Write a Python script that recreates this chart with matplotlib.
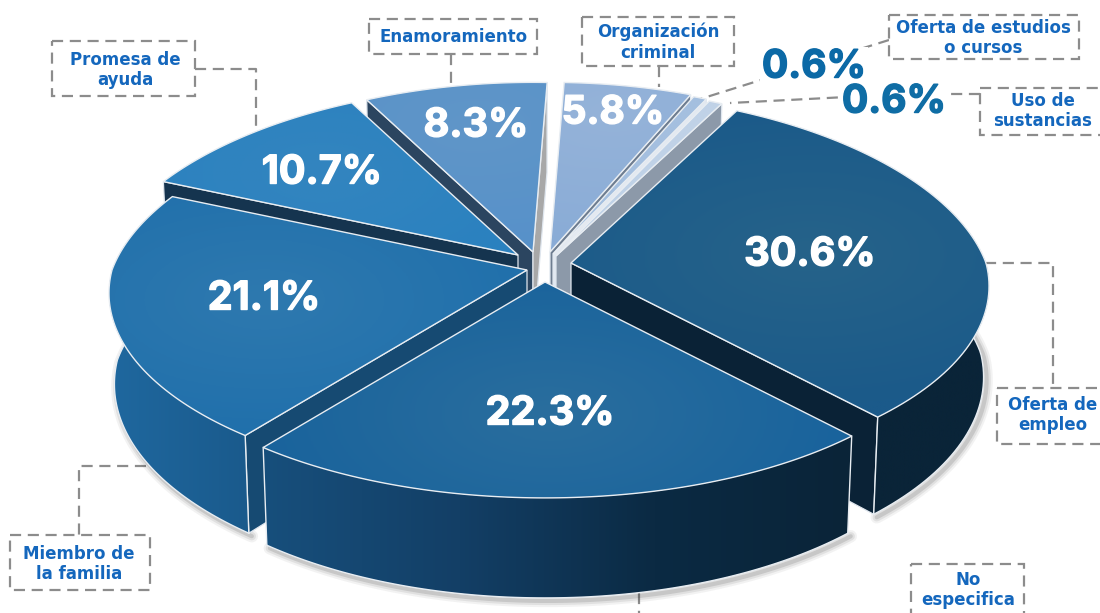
"""
Exploded 3D pie: how the victims were recruited. Slices are worked out from
the percentages, then pushed through a small fake-perspective projection.
"""

import numpy as np
import matplotlib
matplotlib.use("Agg")
import matplotlib.pyplot as plt
import matplotlib.patheffects as pe
from matplotlib.colors import LinearSegmentedColormap
from matplotlib.patches import Polygon, Rectangle

plt.rcParams["font.family"] = ["Inter", "Open Sans", "DejaVu Sans"]

# ── data ──────────────────────────────────────────────────────────────────────
categories = ["Oferta de\nempleo", "No\nespecifica", "Miembro de\nla familia",
              "Promesa de\nayuda", "Enamoramiento", "Organización\ncriminal",
              "Oferta de estudios\no cursos", "Uso de\nsustancias"]
values = [30.6, 22.3, 21.1, 10.7, 8.3, 5.8, 0.6, 0.6]

# ── style per slice (same order as values) ────────────────────────────────────
apex = [(571, 263), (545, 282), (527, 270), (518, 255),
        (533, 252), (550, 252), (553, 254), (556, 256)]
top_rim = ["#1b5a8a", "#19639c", "#1f6fab", "#2880bf",
           "#5590ca", "#88abd6", "#a4bfdf", "#c0d2e7"]
top_mid = ["#266389", "#2a6e9e", "#2e79af", "#3385bf",
           "#6096c8", "#95b3d9", "#a4bfdf", "#c0d2e7"]
wall_stops = [["#0a2438", "#0a2438"],
              ["#174f7c", "#133f66", "#0b2a43", "#0a2438"],
              ["#1f689f", "#1a5a8c"],
              ["#1c5f92", "#1c5f92"],
              ["#3d6f9f", "#3d6f9f"],
              ["#6e7d90", "#6e7d90"],
              ["#8c99a9", "#8c99a9"],
              ["#8c99a9", "#8c99a9"]]
# cut faces; None = that face points away from the viewer
start_wall = [None, None, "#164a72", "#15344f",
              "#2b4560", None, None, None]
end_wall = ["#0a2236", None, None, None,
            "#a8a8a8", "#6e7d90", "#e3e9f1", "#8c99a9"]
pct_pos = [(810, 255), (550, 414), (264, 299), (322, 173),
           (476, 126), (613, 113), (814, 67), (894, 102)]
pct_color = ["white"] * 6 + ["#0b69a6", "#0f6da5"]
pct_size = [28.5, 28.5, 28.5, 28.5, 28.5, 28, 28, 28]
draw_order = [4, 5, 6, 7, 3, 0, 2, 1]

# label boxes: left, top, right, bottom (two of them run off the canvas)
boxes = [(997, 388, 1110, 444), (911, 564, 1024, 630), (10, 535, 150, 590),
         (52, 41, 195, 96), (369, 19, 537, 54), (582, 17, 734, 66),
         (889, 15, 1079, 59), (980, 88, 1110, 135)]
label_pos = [(1053, 415), (968, 590), (79, 564), (125, 70),
             (454, 37), (658, 42), (983, 38), (1043, 111)]
leaders = [[(985, 263), (1053, 263), (1053, 388)],
           [(639, 593), (639, 613)],
           [(146, 466), (79, 466), (79, 535)],
           [(195, 69), (256, 69), (256, 130)],
           [(451, 54), (451, 85)],
           [(659, 66), (659, 87)],
           [(889, 40), (697, 100)],
           [(980, 94), (905, 94), (730, 103)]]

RX, RY = 415.0, 190.0     # disk radii on screen
PERSP = 0.12              # how much the back of the disk shrinks
PERSP_BACK_X = 0.05       # back half narrows a little more sideways
DEPTH = 90.0
START_DEG = 62.5
GREY = "#8c8c8c"
LABEL_BLUE = "#1467bd"
EDGE = "#e8edf2"


# ── helpers ───────────────────────────────────────────────────────────────────
def rim(ap, deg):
    a = np.radians(deg)
    u, v = np.cos(a), np.sin(a)
    p = 1 / (1 + PERSP * v)
    px = p / (1 + PERSP_BACK_X * np.clip(v, 0, 1))
    return ap[0] + RX * u * px, ap[1] - RY * v * p


def drop(x, y, ap):
    # bottom outline: straight down, a bit narrower, a bit deeper at the front
    extra = 10 * np.clip((y - ap[1]) / 215, 0, 1)
    return ap[0] + (x - ap[0]) * 0.987, y + DEPTH + extra


def gradient_fill(ax, poly, img, colors, z):
    xs, ys = poly[:, 0], poly[:, 1]
    cmap = LinearSegmentedColormap.from_list("g", colors)
    im = ax.imshow(img, cmap=cmap, vmin=0, vmax=1, aspect="auto", origin="upper",
                   extent=(xs.min(), xs.max(), ys.max(), ys.min()), zorder=z)
    im.set_clip_path(Polygon(poly, closed=True, transform=ax.transData))


# ── plot ──────────────────────────────────────────────────────────────────────
fig = plt.figure(figsize=(11, 6.13), dpi=100)
ax = fig.add_axes([0, 0, 1, 1])
ax.axis("off")

sweeps = np.array(values) / sum(values) * 360
ends = START_DEG - np.cumsum(sweeps)
starts = ends + sweeps

z = 2
for i in draw_order:
    ap = apex[i]
    angles = np.linspace(starts[i], ends[i], 90)
    rx, ry = rim(ap, angles)
    top = np.column_stack([np.r_[ap[0], rx], np.r_[ap[1], ry]])

    # front part of the rim only, the top face hides a bit of overlap at the sides
    sin_a = np.sin(np.radians(angles))
    front = sin_a < 0.3 if i in (0, 2) else sin_a < 0
    fx, fy = rx[front], ry[front]
    bx, by = drop(fx, fy, ap)

    # soft shadow under the bottom rim
    if front.any():
        for lw, al in ((9, 0.06), (6, 0.09), (3, 0.14)):
            ax.plot(bx + 3, by + 3, color="#303030", lw=lw, alpha=al, zorder=z,
                    solid_capstyle="round")
    z += 1

    # cut faces
    for edge, col in ((0, start_wall[i]), (-1, end_wall[i])):
        if col is None:
            continue
        ex, ey = rx[edge], ry[edge]
        ex2, ey2 = drop(ex, ey, ap)
        face = [(ap[0], ap[1]), (ex, ey), (ex2, ey2), (ap[0], ap[1] + DEPTH)]
        ax.add_patch(Polygon(face, closed=True, fc=col, ec="#dfe6ee", lw=0.9, zorder=z))
        z += 1

    # outer wall
    if front.any():
        wall = np.column_stack([np.r_[fx, bx[::-1]], np.r_[fy, by[::-1]]])
        grad = np.linspace(0, 1, 256).reshape(1, -1)
        gradient_fill(ax, wall, grad, wall_stops[i], z)
        ax.plot(bx, by, color=EDGE, lw=1.0, zorder=z + 1)
        for edge in (0, -1):
            if sin_a[edge] < 0:
                dx, dy = drop(rx[edge], ry[edge], ap)
                ax.plot([rx[edge], dx], [ry[edge], dy], color=EDGE, lw=1.0, zorder=z + 1)
    z += 2

    # top face
    gx, gy = np.meshgrid(np.linspace(top[:, 0].min(), top[:, 0].max(), 220),
                         np.linspace(top[:, 1].min(), top[:, 1].max(), 160))
    cx, cy = pct_pos[i] if i < 6 else (top[:, 0].mean(), top[:, 1].mean())
    dist = np.clip(np.hypot((gx - cx) / 300, (gy - cy) / 150), 0, 1)
    gradient_fill(ax, top, dist, [top_mid[i], top_rim[i]], z)
    ax.add_patch(Polygon(top, closed=True, fc="none", ec=EDGE, lw=1.0, zorder=z + 1))
    z += 2

# leaders and label boxes
for pts in leaders:
    xs, ys = zip(*pts)
    ax.plot(xs, ys, color=GREY, lw=1.6, ls=(0, (5, 3)), zorder=1)
for (x0, y0, x1, y1), name, pos in zip(boxes, categories, label_pos):
    ax.add_patch(Rectangle((x0, y0), x1 - x0, y1 - y0, fc="white", ec=GREY, lw=1.6,
                           ls=(0, (5, 3)), zorder=1))
    ax.text(pos[0], pos[1], name, color=LABEL_BLUE, fontsize=12, fontweight="bold",
            family="DejaVu Sans", ha="center", va="center", linespacing=1.2, zorder=z)

# percentages
for v, pos, col, size in zip(values, pct_pos, pct_color, pct_size):
    bg = dict(fc="white", ec="none", pad=1) if col != "white" else None
    ax.text(pos[0], pos[1], f"{v}%", color=col, fontsize=size, fontweight="bold",
            ha="center", va="center", bbox=bg, zorder=z + 1,
            path_effects=[pe.withStroke(linewidth=1.0, foreground=col)])

ax.set_xlim(0, 1100)
ax.set_ylim(613, 0)

fig.savefig("out.png", dpi=100)
